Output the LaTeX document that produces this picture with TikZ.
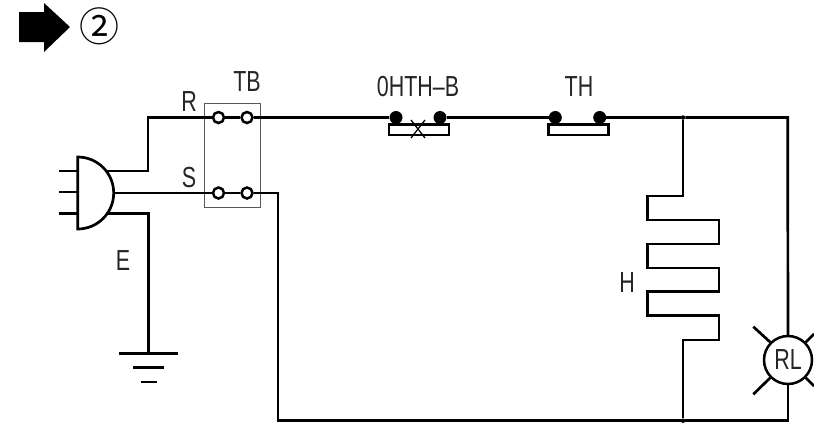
\documentclass[tikz,border=0pt]{standalone}
\usepackage{fontspec}
\setmainfont[FakeStretch=0.74]{Liberation Sans}
\newfontfamily\symfont{Noto Sans CJK JP}
\begin{document}
\begin{tikzpicture}[x=1pt,y=-1pt,
  wire/.style={line width=2.7pt,line join=miter},
  lbl/.style={inner sep=0pt,font=\fontsize{29}{29}\selectfont,text=black!85},
  terminal/.style={circle,draw,line width=2.5pt,fill=white,inner sep=0pt,minimum size=11pt},
  ball/.style={circle,fill=black,inner sep=0pt,minimum size=13pt},
  dot/.style={circle,fill=black,inner sep=0pt,minimum size=4.5pt},
  barbox/.style={rectangle,draw,line width=2.5pt,fill=white,inner sep=0pt,minimum width=60pt,minimum height=10.5pt},
  tbbox/.style={rectangle,draw=black!65,line width=1pt,inner sep=0pt,minimum width=56pt,minimum height=104pt}]
\useasboundingbox (0,0) rectangle (814,424);
% heading
\fill[black] (19,12) -- (44,12) -- (44,3) -- (70,27) -- (44,52) -- (44,42) -- (19,42) -- cycle;
\node[inner sep=0pt,font=\symfont\fontsize{40}{40}\selectfont] (num) at (99.5,26) {②};
% terminal block
\node[tbbox] (tb) at (232.7,155.3) {};
\node[terminal] (t1) at (218.5,117.5) {};
\node[terminal] (t2) at (247,117.5) {};
\node[terminal] (t3) at (218.5,193) {};
\node[terminal] (t4) at (247,193) {};
% thermal parts
\node[barbox] (ohbar) at (418.8,129.7) {};
\node[barbox] (thbar) at (578.4,129.7) {};
\node[ball] (o1) at (396,117.5) {};
\node[ball] (o2) at (440,117.5) {};
\node[ball] (h1) at (555.3,117.5) {};
\node[ball] (h2) at (599.7,117.5) {};
\coordinate (xa) at (411,120); \coordinate (xb) at (425,138);
\coordinate (xc) at (425,120); \coordinate (xd) at (411,138);
\draw[line width=1.3pt] (xa) -- (xb) (xc) -- (xd);
% junctions and lamp
\node[dot] (j1) at (683,117.5) {};
\node[dot] (j2) at (683,420.7) {};
\node[circle,draw,line width=2.5pt,inner sep=0pt,minimum size=48pt,font=\fontsize{29}{29}\selectfont,text=black!85] (lamp) at (788,360) {RL};
\coordinate (r1) at (753.3,326.7);
\coordinate (r2) at (753.3,394.3);
\coordinate (r3) at (814,334);
\coordinate (r4) at (814,386);
\draw[wire] (lamp.135) -- (r1);
\draw[wire] (lamp.225) -- (r2);
\draw[wire] (lamp.45) -- (r3);
\draw[wire] (lamp.-45) -- (r4);
% plug
\coordinate (pt) at (77.7,157);
\coordinate (pm) at (113.7,193);
\coordinate (pb) at (77.7,229);
\draw[wire] (pt) .. controls (97.6,157) and (113.7,173.1) .. (pm) .. controls (113.7,212.9) and (97.6,229) .. (pb) -- cycle;
\coordinate (p1) at (59,171); \coordinate (p1e) at (77.7,171);
\coordinate (p2) at (59,192); \coordinate (p2e) at (77.7,192);
\coordinate (p3) at (59,213.3); \coordinate (p3e) at (77.7,213.3);
\draw[wire] (p1) -- (p1e);
\draw[wire] (p2) -- (p2e);
\draw[wire] (p3) -- (p3e);
\coordinate (rs) at (106,171);
\coordinate (es) at (106,213.3);
\coordinate (rc) at (148,171);
\coordinate (gt) at (148.5,353.7);
\draw[wire] (rs) -- (rc) |- (t1);
\draw[wire] (pm) -- (t3);
\draw[wire] (es) -| (gt);
% ground
\coordinate (g1a) at (119.3,353.7); \coordinate (g1b) at (177.7,353.7);
\coordinate (g2a) at (133.3,367.7); \coordinate (g2b) at (163.7,367.7);
\coordinate (g3a) at (140.7,382); \coordinate (g3b) at (156.7,382);
\draw[wire] (g1a) -- (g1b);
\draw[wire] (g2a) -- (g2b);
\draw[wire] (g3a) -- (g3b);
% main wires
\draw[wire] (t1) -- (t2);
\draw[wire] (t3) -- (t4);
\draw[wire] (t2) -- (o1);
\draw[wire] (o2) -- (h1);
\draw[wire] (h2) -- (j1);
\coordinate (tr) at (787.7,117.5);
\draw[wire] (j1) -- (tr) -- (lamp);
\coordinate (bl) at (278,420.7);
\draw[wire] (t4) -| (bl) -- (j2);
\draw[wire] (j2) -| (lamp);
% heater
\coordinate (a1) at (683,196);
\coordinate (a2) at (647.7,220);
\coordinate (a3) at (719,244);
\coordinate (a4) at (647.7,268);
\coordinate (a5) at (719,291.7);
\coordinate (a6) at (647.7,315.7);
\coordinate (a7) at (719,340);
\draw[wire] (j1) -- (a1) -| (a2) -| (a3) -| (a4) -| (a5) -| (a6) -| (a7) -| (j2);
% labels
\node[lbl] (ltb) at (247,82) {TB};
\node[lbl] (lr) at (189,102) {R};
\node[lbl] (ls) at (189,177.5) {S};
\node[lbl] (le) at (123,261) {E};
\node[lbl] (lh) at (627,282.5) {H};
\node[lbl] (loh) at (418,87) {0HTH–B};
\node[lbl] (lth) at (579,87) {TH};
\end{tikzpicture}
\end{document}
